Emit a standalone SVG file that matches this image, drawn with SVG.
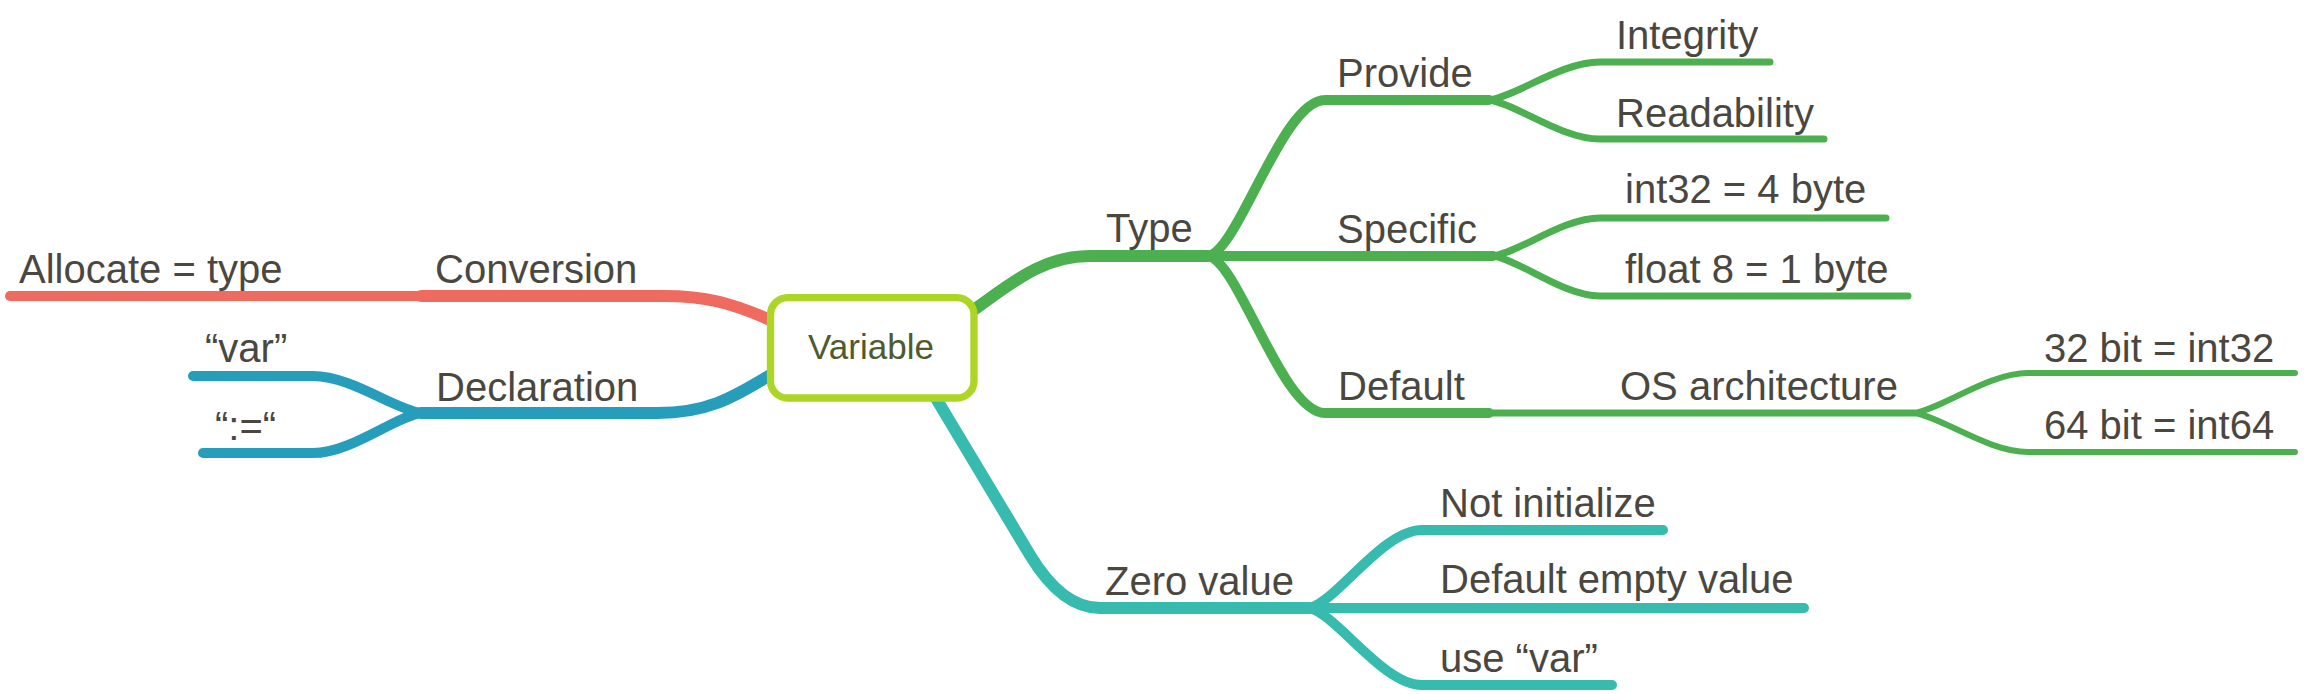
<svg xmlns="http://www.w3.org/2000/svg" width="2306" height="694" viewBox="0 0 2306 694">
<style>
.t{font-family:"Liberation Sans",Arial,sans-serif;font-size:40px;fill:#4a4741}
.c{fill:none;stroke-linecap:round;stroke-linejoin:round}
.g{stroke:#4caf50}.r{stroke:#ef6b5f}.b{stroke:#259dbb}.q{stroke:#37bbaf}
.w1{stroke-width:12}.w2{stroke-width:10}.w3{stroke-width:7}.w4{stroke-width:6}
</style>
<rect width="2306" height="694" fill="#ffffff"/>
<g id="connectors">
<path class="c r w1" d="M775 322 C730 302 705 296 663 296 L421 296"/>
<path class="c r w2" d="M421 296 L10 296"/>
<path class="c b w1" d="M775 372 C730 400 705 413 657 413 L421 413"/>
<path class="c b w2" d="M421 413 C394 409 351 376 313 376 L193 376"/>
<path class="c b w2" d="M421 413 C394 417 351 453 313 453 L203 453"/>
<path class="c g w1" d="M965 316 C1010 285 1040 256 1090 256 L1208 256"/>
<path class="c g w2" d="M1208 256 C1238 252 1282 100 1325 100 L1489 100"/>
<path class="c g w2" d="M1208 256 L1493 256"/>
<path class="c g w2" d="M1208 256 C1238 260 1282 413 1325 413 L1489 413"/>
<path class="c g w3" d="M1489 100 C1517 96 1561 62 1600 62 L1770 62"/>
<path class="c g w3" d="M1489 100 C1517 104 1561 139 1600 139 L1824 139"/>
<path class="c g w3" d="M1493 256 C1520 252 1563 218 1600 218 L1886 218"/>
<path class="c g w3" d="M1493 256 C1520 260 1563 296 1600 296 L1908 296"/>
<path class="c g w3" d="M1489 413 L1914 413"/>
<path class="c g w4" d="M1914 413 C1942 409 1988 373 2028 373 L2295 373"/>
<path class="c g w4" d="M1914 413 C1942 417 1988 452 2028 452 L2295 452"/>
<path class="c q w1" d="M925 380 L1030 555 Q1062 608 1100 608 L1310 608"/>
<path class="c q w2" d="M1310 608 C1338 600 1383 530 1422 530 L1663 530"/>
<path class="c q w2" d="M1310 608 L1804 608"/>
<path class="c q w2" d="M1310 608 C1338 616 1383 685 1422 685 L1612 685"/>
</g>
<g id="node-variable">
<rect x="770.5" y="297.7" width="203.5" height="100.3" rx="17" fill="#ffffff" stroke="#acd625" stroke-width="7.3"/>
<text x="871" y="359" text-anchor="middle" style="font-family:'Liberation Sans',Arial,sans-serif;font-size:35px;fill:#4e5b2e">Variable</text>
</g>
<g id="node-conversion"><text class="t" x="435" y="283">Conversion</text></g>
<g id="node-allocate"><text class="t" x="19" y="283">Allocate = type</text></g>
<g id="node-declaration"><text class="t" x="436" y="401">Declaration</text></g>
<g id="node-var"><text class="t" x="205" y="362">“var”</text></g>
<g id="node-assign"><text class="t" x="215" y="440">“:=“</text></g>
<g id="node-type"><text class="t" x="1106" y="242">Type</text></g>
<g id="node-provide"><text class="t" x="1337" y="87">Provide</text></g>
<g id="node-specific"><text class="t" x="1337" y="243">Specific</text></g>
<g id="node-default"><text class="t" x="1338" y="400">Default</text></g>
<g id="node-integrity"><text class="t" x="1616" y="49">Integrity</text></g>
<g id="node-readability"><text class="t" x="1616" y="127">Readability</text></g>
<g id="node-int32"><text class="t" x="1625" y="203">int32 = 4 byte</text></g>
<g id="node-float8"><text class="t" x="1625" y="283">float 8 = 1 byte</text></g>
<g id="node-os"><text class="t" x="1620" y="400">OS architecture</text></g>
<g id="node-32bit"><text class="t" x="2044" y="362">32 bit = int32</text></g>
<g id="node-64bit"><text class="t" x="2044" y="439">64 bit = int64</text></g>
<g id="node-zero"><text class="t" x="1105" y="595">Zero value</text></g>
<g id="node-notinit"><text class="t" x="1440" y="517">Not initialize</text></g>
<g id="node-empty"><text class="t" x="1440" y="593">Default empty value</text></g>
<g id="node-usevar"><text class="t" x="1440" y="672">use “var”</text></g>
</svg>
